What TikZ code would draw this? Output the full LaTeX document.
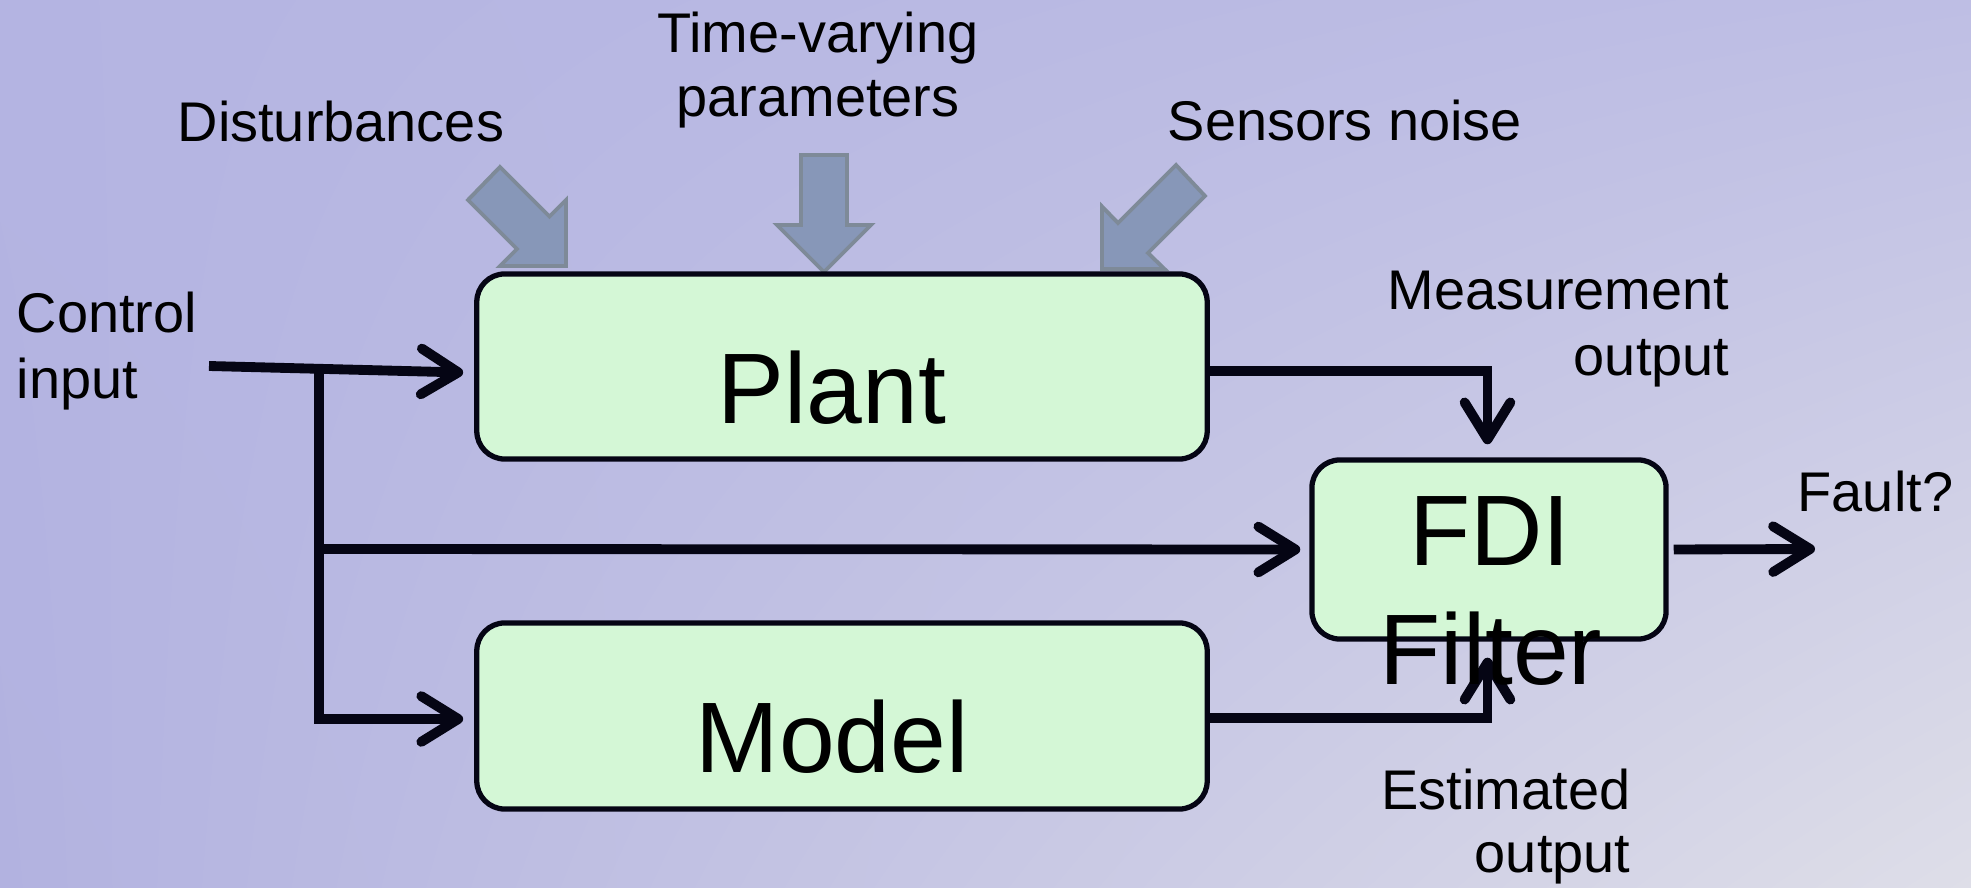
\documentclass[tikz,border=0pt]{standalone}
\usepackage{fontspec}
\setmainfont{Liberation Sans}
\usetikzlibrary{arrows.meta,calc,shadings}
\definecolor{boxfill}{RGB}{212,247,214}
\definecolor{blkfill}{RGB}{135,151,184}
\definecolor{blkdraw}{RGB}{126,138,152}
\definecolor{bgUL}{RGB}{180,180,226}
\definecolor{bgUR}{RGB}{190,190,228}
\definecolor{bgLL}{RGB}{178,178,224}
\definecolor{bgLR}{RGB}{222,222,232}
\definecolor{inkc}{RGB}{5,5,20}
\newcommand\lblfont{\fontsize{15.9}{19}\selectfont}
\newcommand\boxfont{\fontsize{28.5}{34}\selectfont}
\tikzset{
  blockbox/.style={draw=inkc, line width=1.5pt, fill=boxfill, rounded corners=0.28cm, inner sep=0pt},
  conn/.style={draw=inkc, line width=2.8pt, -{Straight Barb[length=10.5pt,width=13pt,round]}},
  wire/.style={draw=inkc, line width=2.8pt},
  lbl/.style={inner sep=0pt, font=\lblfont, text=black},
  bigl/.style={inner sep=0pt, font=\boxfont, text=black},
  blockarrow/.style={fill=blkfill, draw=blkdraw, line width=1.1pt, line join=miter}
}
\begin{document}
\begin{tikzpicture}[x=0.01cm,y=-0.01cm]
\useasboundingbox (0,0) rectangle (1971,888);
\shade[upper left=bgUL, upper right=bgUR, lower left=bgLL, lower right=bgLR] (0,0) rectangle (1971,888);

% block arrows (inputs to plant)
\path[blockarrow] (500,167) -- (549.5,216.5) -- (566,200) -- (566,266) -- (500,266) -- (517,249) -- (468,200) -- cycle;
\path[blockarrow] (801,155) -- (847,155) -- (847,225) -- (871,225) -- (824,272) -- (777,225) -- (801,225) -- cycle;
\path[blockarrow] (1176,165) -- (1205,196) -- (1148,253) -- (1164.5,269) -- (1102,269) -- (1102,206.5) -- (1118,223) -- cycle;

% boxes
\node[blockbox, minimum width=7.30cm, minimum height=1.85cm] (plant) at (842,366.5) {};
\node[blockbox, minimum width=7.30cm, minimum height=1.86cm] (model) at (842,716) {};
\node[blockbox, minimum width=3.54cm, minimum height=1.79cm] (fdi) at (1489,549.5) {};

% connectors
\coordinate (cin) at (209,366);
\coordinate (br) at (319,369);
\coordinate (brm) at (319,549);
\coordinate (fout) at (1815,549);
\draw[conn] (cin) -- ($(plant.west)+(-11,6)$);
\draw[wire] (br) -- (brm);
\draw[conn] (brm) |- ($(model.west)+(-11,3)$);
\draw[conn] (brm) -- ($(fdi.west)+(-9,0)$);
\draw[conn] ($(plant.east)+(0,4.5)$) -| ($(fdi.north)+(-1.5,-13)$);
\draw[conn] ($(model.east)+(0,2)$) -| ($(fdi.south)+(-1.5,16)$);
\draw[conn] ($(fdi.east)+(5,0)$) -- (fout);

% labels
\node[lbl, anchor=base west] (dist) at (177,142) {Disturbances};
\node[lbl, anchor=base] (tv1) at (818,53) {Time-varying};
\node[lbl, anchor=base] (tv2) at (818,117) {parameters};
\node[lbl, anchor=base west] (sens) at (1167,141) {Sensors noise};
\node[lbl, anchor=base west] (ci1) at (16,333) {Control};
\node[lbl, anchor=base west] (ci2) at (16,399) {input};
\node[lbl, anchor=base east] (mo1) at (1730,310) {Measurement};
\node[lbl, anchor=base east] (mo2) at (1730,376) {output};
\node[lbl, anchor=base west] (fault) at (1797,512) {Fault?};
\node[lbl, anchor=base east] (eo1) at (1631,810) {Estimated};
\node[lbl, anchor=base east] (eo2) at (1631,873) {output};
\node[bigl, anchor=base] (plantlbl) at (832,424) {Plant};
\node[bigl, anchor=base] (modellbl) at (832,772) {Model};
\node[bigl, anchor=base] (fdilbl1) at (1490,566) {FDI};
\node[bigl, anchor=base] (fdilbl2) at (1491,685) {Filter};
\end{tikzpicture}
\end{document}
